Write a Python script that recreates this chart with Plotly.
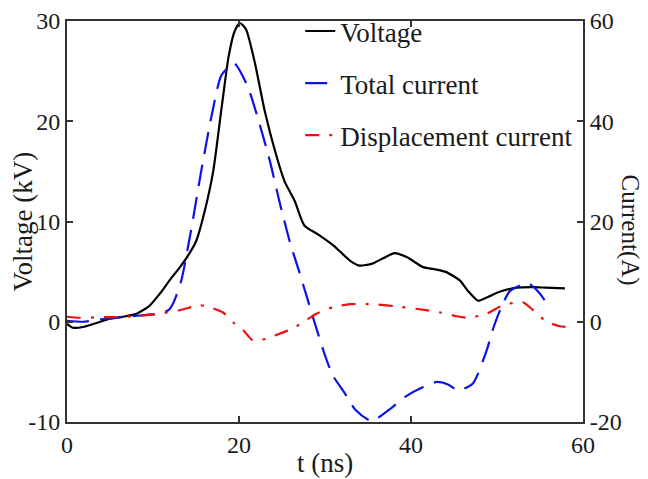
import plotly.graph_objects as go

# Voltage (kV) vs time (ns)
t_v = [0, 0.7, 2, 3.5, 5, 6.5, 8.1, 9.6, 10.8, 11.9, 13, 14, 15, 16, 17, 18, 18.8,
       19.5, 20.1, 20.8, 21.8, 23, 24.2, 25.3, 26.5, 27.6, 29.4, 31, 32.9, 34, 35.5,
       36.7, 38.1, 39.5, 41.4, 43, 44.1, 45.7, 46.6, 47.8, 49, 50.3, 52.3, 54.2, 55.7, 57.9]
voltage = [-0.2, -0.6, -0.5, -0.1, 0.3, 0.5, 0.8, 1.6, 2.8, 4.1, 5.3, 6.5, 8, 11, 15,
           21.5, 26.5, 29, 29.8, 29.2, 26, 21, 17, 14, 12, 9.6, 8.6, 7.6, 6.1, 5.6, 5.8,
           6.3, 6.85, 6.45, 5.45, 5.2, 4.95, 4.1, 3.1, 2.1, 2.5, 3.0, 3.4, 3.45, 3.4, 3.33]

# Total current (A)
t_i = [0, 1.9, 4, 7, 8.8, 10.5, 11.8, 12.4, 13.3, 14.4, 15.6, 16.8, 17.9, 18.9, 19.5, 21.0,
       22.3, 23.6, 24.7, 25.9, 27, 27.9, 28.6, 30, 30.9, 32.2, 33.5, 35.4, 37.5, 39.3,
       41.4, 43, 44.3, 45.5, 47.2, 48.8, 49.6, 50.5, 51.5, 53.6, 55, 55.9]
total_current = [0.2, 0.0, 0.5, 1.0, 1.3, 1.6, 2.3, 3.9, 8.3, 18, 30, 41, 49, 51, 51.5, 47,
                 40, 32, 24, 16, 10, 4.9, 0.9, -6.7, -10.7, -14, -17.5, -19.8, -17.5, -15,
                 -13, -12, -12.5, -13.7, -12.3, -5.7, -1.1, 2.9, 6.1, 7.7, 5.6, 3.3]

# Displacement current (A)
t_d = [0, 1.5, 4, 7, 10.8, 13.1, 15.4, 16.2, 18.1, 19.3, 20.5, 21.6, 23.2, 24.7, 26.2,
       27.8, 29, 30.9, 32.9, 35.6, 38.1, 40.6, 43.3, 45.3, 46.8, 48.8, 50.7, 53, 54.2,
       55.7, 57.3, 58.8]
disp_current = [1.0, 0.8, 0.9, 1.0, 1.6, 2.3, 3.3, 3.1, 1.9, -0.1, -1.7, -3.7, -3.4, -2.4,
                -1.4, 0.3, 1.6, 2.9, 3.5, 3.5, 3.1, 2.6, 1.9, 1.1, 0.8, 1.6, 3.3, 3.9, 2.3,
                0.1, -0.9, -1.1]

x_ticks = [0, 20, 40, 60]
v_ticks = [-10, 0, 10, 20, 30]
v_tick_text = ["-10", "0", "10", "20", "30"]
i_ticks = [-20, 0, 20, 40, 60]
i_tick_text = ["-20", "0", "20", "40", "60"]

FONT = "Liberation Serif"
AX = "#333333"
TXT = "#1a1a1a"

fig = go.Figure()
fig.add_trace(go.Scatter(x=t_v, y=voltage, name="Voltage", mode="lines",
                         line=dict(color="black", width=2.2, shape="spline", smoothing=0.6),
                         legendgroup="a"))
fig.add_trace(go.Scatter(x=t_i, y=total_current, name="Total current", mode="lines", yaxis="y2",
                         line=dict(color="#0a14e6", width=2.2, dash="22px,11px", shape="spline", smoothing=0.6),
                         legendgroup="b"))
fig.add_trace(go.Scatter(x=t_d, y=disp_current, name="Displacement current", mode="lines", yaxis="y2",
                         line=dict(color="#ee1010", width=2.2, dash="14px,10px,3px,10px", shape="spline", smoothing=0.6),
                         legendgroup="c"))

# The page body has an 8px default margin, so the figure is sized to fit the window.
fig.update_layout(
    width=640, height=471,
    margin=dict(l=59, r=65, t=13, b=57, autoexpand=False),
    paper_bgcolor="white", plot_bgcolor="white",
    font=dict(family=FONT, size=24, color=TXT),
    showlegend=True,
    legend=dict(x=0.452, y=1.035, xanchor="left", yanchor="top", bgcolor="rgba(0,0,0,0)",
                font=dict(family=FONT, size=27, color=TXT),
                tracegroupgap=14, traceorder="grouped"),
    xaxis=dict(range=[0, 60], tickvals=x_ticks, ticks="inside", ticklen=6, tickwidth=1.5,
               tickcolor=AX, showline=True, linecolor=AX, linewidth=2, mirror="ticks",
               showgrid=False, zeroline=False, automargin=False,
               tickfont=dict(family=FONT, size=24, color=TXT)),
    yaxis=dict(range=[-10, 30], tickvals=v_ticks, ticktext=v_tick_text, ticks="inside",
               ticklen=6, tickwidth=1.5,
               tickcolor=AX, showline=True, linecolor=AX, linewidth=2,
               showgrid=False, zeroline=False, automargin=False,
               tickfont=dict(family=FONT, size=24, color=TXT)),
    yaxis2=dict(range=[-20, 60], tickvals=i_ticks, ticktext=i_tick_text, ticks="inside",
                ticklen=6, tickwidth=1.5,
                tickcolor=AX, showline=True, linecolor=AX, linewidth=2,
                overlaying="y", side="right", showgrid=False, zeroline=False, automargin=False,
                tickfont=dict(family=FONT, size=24, color=TXT)),
    annotations=[
        dict(text="Current(A)", textangle=90, xref="paper", yref="paper",
             x=(630 - 67) / 516, y=0.48, xanchor="center", yanchor="middle", showarrow=False,
             font=dict(family=FONT, size=25, color=TXT)),
        dict(text="Voltage (kV)", textangle=-90, xref="paper", yref="paper",
             x=(22 - 67) / 516, y=0.5, xanchor="center", yanchor="middle", showarrow=False,
             font=dict(family=FONT, size=27, color=TXT)),
        dict(text="t (ns)", xref="paper", yref="paper",
             x=0.5, y=-(463 - 422) / 401, xanchor="center", yanchor="middle", showarrow=False,
             font=dict(family=FONT, size=27, color=TXT)),
    ],
)

fig.write_html("out.html")
